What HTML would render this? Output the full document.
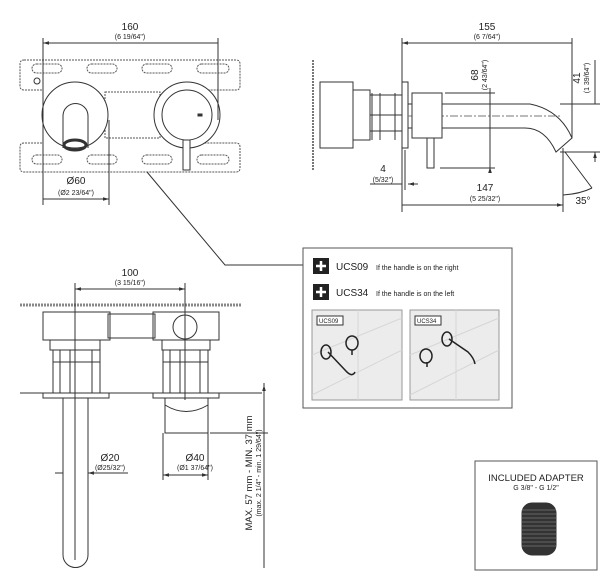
<!DOCTYPE html>
<html><head><style>html,body{margin:0;padding:0;background:#fff}svg{display:block}</style></head>
<body>
<svg width="615" height="583" viewBox="0 0 615 583" xmlns="http://www.w3.org/2000/svg" font-family="Liberation Sans, sans-serif" fill="none" stroke="#333" stroke-width="1">
<defs>
<marker id="a" viewBox="0 0 10 10" refX="10" refY="5" markerWidth="6" markerHeight="6" orient="auto-start-reverse"><path d="M0,2L10,5L0,8z" fill="#333" stroke="none"/></marker>
</defs>
<!-- top-left front view -->
<g stroke="#555" stroke-dasharray="2,1">
<path d="M24,60H236Q240,60 240,64V86Q240,90 236,90H205V143H236Q240,143 240,147V168Q240,172 236,172H24Q20,172 20,168V147Q20,143 24,143H43V90H24Q20,90 20,86V64Q20,60 24,60Z"/>
<rect x="32" y="64" width="30" height="9" rx="4.5"/><rect x="87" y="64" width="30" height="9" rx="4.5"/><rect x="142" y="64" width="30" height="9" rx="4.5"/><rect x="197" y="64" width="32" height="9" rx="4.5"/>
<rect x="32" y="155" width="30" height="9" rx="4.5"/><rect x="87" y="155" width="30" height="9" rx="4.5"/><rect x="142" y="155" width="30" height="9" rx="4.5"/><rect x="197" y="155" width="32" height="9" rx="4.5"/>
<rect x="105" y="92" width="55" height="46"/>
</g>
<circle cx="37" cy="81" r="3"/>
<circle cx="75" cy="115" r="33" fill="#fff"/>
<path d="M63,148V116A12.5,12.5 0 0 1 88,116V148" />
<ellipse cx="75" cy="145" rx="11" ry="5" stroke-width="3"/>
<circle cx="187" cy="115" r="33" fill="#fff"/>
<circle cx="187" cy="115" r="25"/>
<rect x="198" y="114" width="4" height="2" fill="#333"/>
<rect x="183" y="140" width="7" height="30" fill="#fff"/>
<path d="M43,38V205M218,38V120M109,120V205"/>
<path d="M43,43H218M43,199H109" marker-start="url(#a)" marker-end="url(#a)"/>
<path d="M147,172L225,265H303"/>
<g fill="#222" stroke="none" text-anchor="middle">
<text x="130" y="30" font-size="10">160</text><text x="130" y="39" font-size="7">(6 19/64")</text>
<text x="76" y="184" font-size="10">Ø60</text><text x="76" y="195" font-size="7">(Ø2 23/64")</text>
</g>
<!-- top-right side view -->
<path d="M313,60V170" stroke-dasharray="2,1" stroke-width="2" stroke="#777"/>
<rect x="320" y="82" width="33" height="66" fill="#fff"/>
<rect x="353" y="90" width="17" height="50"/>
<path d="M370,95H402M370,115H402M370,131H402M372,93V140M380,93V140M395,93V140"/>
<rect x="402" y="82" width="6" height="66"/>
<path d="M408,104H530Q560,110 572,138L556,152Q545,128 525,128H408"/>
<path d="M408,116H560" stroke-dasharray="8,2,2,2" stroke="#777"/>
<rect x="412" y="93" width="30" height="45" fill="#fff"/>
<rect x="427" y="138" width="7" height="30"/>
<path d="M402,38V212M572,38V138M445,93H495M440,168H495M560,104H600M560,152H600M563,148V212M405,150V190M565,152L592,188"/>
<path d="M402,43H572M402,205H563" marker-start="url(#a)" marker-end="url(#a)"/>
<path d="M490,88V93M490,172V167" marker-end="url(#a)"/>
<path d="M490,93V167"/>
<path d="M595,97V104M595,160V152" marker-end="url(#a)"/>
<path d="M595,60V104M595,152V162"/>
<path d="M370,184H402M418,184H408" marker-end="url(#a)"/>
<path d="M563,195Q580,194 592,188"/>
<g fill="#222" stroke="none" text-anchor="middle">
<text x="487" y="30" font-size="10">155</text><text x="487" y="39" font-size="7">(6 7/64")</text>
<text x="485" y="191" font-size="10">147</text><text x="485" y="201" font-size="7">(5 25/32")</text>
<text x="383" y="172" font-size="10">4</text><text x="383" y="182" font-size="7">(5/32")</text>
<text x="583" y="204" font-size="10">35°</text>
<text transform="translate(478,75) rotate(-90)" font-size="10">68</text>
<text transform="translate(487,75) rotate(-90)" font-size="7">(2 43/64")</text>
<text transform="translate(580,78) rotate(-90)" font-size="10">41</text>
<text transform="translate(589,78) rotate(-90)" font-size="7">(1 39/64")</text>
</g>
<!-- bottom-left top view -->
<path d="M20,305H242" stroke-width="3" stroke="#888" stroke-dasharray="2,1"/>
<rect x="43" y="312" width="67" height="28"/>
<rect x="108" y="314" width="47" height="24"/>
<rect x="153" y="312" width="66" height="28"/>
<circle cx="185" cy="327" r="12"/>
<rect x="50" y="340" width="50" height="10"/><rect x="162" y="340" width="48" height="10"/>
<rect x="53" y="350" width="47" height="43"/><rect x="163" y="350" width="45" height="43"/>
<path d="M60,350V393M70,350V393M92,350V393M170,350V393M180,350V393M200,350V393M53,362H100M163,362H208"/>
<path d="M20,393H262"/>
<rect x="43" y="393" width="66" height="5"/><rect x="153" y="393" width="66" height="5"/>
<path d="M63,398V555A12.5,12.5 0 0 0 88,555V398"/>
<path d="M165,398V433H208V398M165,405Q186,418 208,405"/>
<path d="M75,283V560M185,283V400M163,433V480M208,433V480M210,433H268"/>
<path d="M75,289H185" marker-start="url(#a)" marker-end="url(#a)"/>
<path d="M55,473H63M128,473H88" marker-end="url(#a)"/>
<path d="M163,475H208" marker-start="url(#a)" marker-end="url(#a)"/>
<path d="M264,383V433M264,433V568"/>
<path d="M264,385V393" marker-start="url(#a)"/>
<g fill="#222" stroke="none" text-anchor="middle">
<text x="130" y="276" font-size="10">100</text><text x="130" y="285" font-size="7">(3 15/16")</text>
<text x="110" y="461" font-size="10">Ø20</text><text x="110" y="470" font-size="7">(Ø25/32")</text>
<text x="195" y="461" font-size="10">Ø40</text><text x="195" y="470" font-size="7">(Ø1 37/64")</text>
<text transform="translate(252,473) rotate(-90)" font-size="9.5">MAX. 57 mm - MIN. 37 mm</text>
<text transform="translate(261,473) rotate(-90)" font-size="7">(max. 2 1/4" - min. 1 29/64")</text>
</g>
<!-- info box -->
<rect x="303" y="248" width="209" height="160" stroke="#555"/>
<rect x="313" y="258" width="16" height="16" fill="#222" stroke="none"/>
<rect x="313" y="284" width="16" height="16" fill="#222" stroke="none"/>
<path d="M321,261V271M316,266H326M321,287V297M316,292H326" stroke="#fff" stroke-width="2.5"/>
<g fill="#222" stroke="none">
<text x="336" y="270" font-size="10">UCS09</text><text x="376" y="270" font-size="7">If the handle is on the right</text>
<text x="336" y="296" font-size="10">UCS34</text><text x="376" y="296" font-size="7">If the handle is on the left</text>
</g>
<rect x="312" y="310" width="90" height="90" fill="#ececec" stroke="#999"/>
<rect x="410" y="310" width="89" height="90" fill="#ececec" stroke="#999"/>
<path d="M358,310V400M456,310V400M312,355L402,318M312,395L402,350M410,355L499,318M410,395L499,350" stroke="#d6d6d6"/>
<rect x="317" y="316" width="26" height="9" fill="#fff" stroke="#333"/>
<rect x="415" y="316" width="26" height="9" fill="#fff" stroke="#333"/>
<g fill="#222" stroke="none" font-size="6"><text x="319" y="323">UCS09</text><text x="417" y="323">UCS34</text></g>
<g stroke="#222" stroke-width="1.5">
<ellipse cx="326" cy="352" rx="5" ry="7"/><path d="M328,352L345,370Q352,378 355,372"/>
<ellipse cx="352" cy="343" rx="6" ry="7"/><path d="M352,350V355"/>
<ellipse cx="426" cy="356" rx="6" ry="7"/><path d="M427,362V367"/>
<ellipse cx="447" cy="339" rx="5" ry="7"/><path d="M449,339L468,352Q474,358 475,364"/>
</g>
<!-- adapter -->
<rect x="475" y="461" width="122" height="109" stroke="#555"/>
<g fill="#222" stroke="none" text-anchor="middle">
<text x="536" y="481" font-size="9.5">INCLUDED ADAPTER</text><text x="536" y="490" font-size="7">G 3/8" - G 1/2"</text>
</g>
<rect x="522" y="503" width="34" height="52" rx="10" fill="#333"/>
<path d="M522,510H556M522,514H556M522,518H556M522,522H556M522,526H556M522,530H556M522,534H556M522,538H556M522,542H556M522,546H556" stroke="#777" stroke-width="0.7"/>
</svg>
</body></html>
